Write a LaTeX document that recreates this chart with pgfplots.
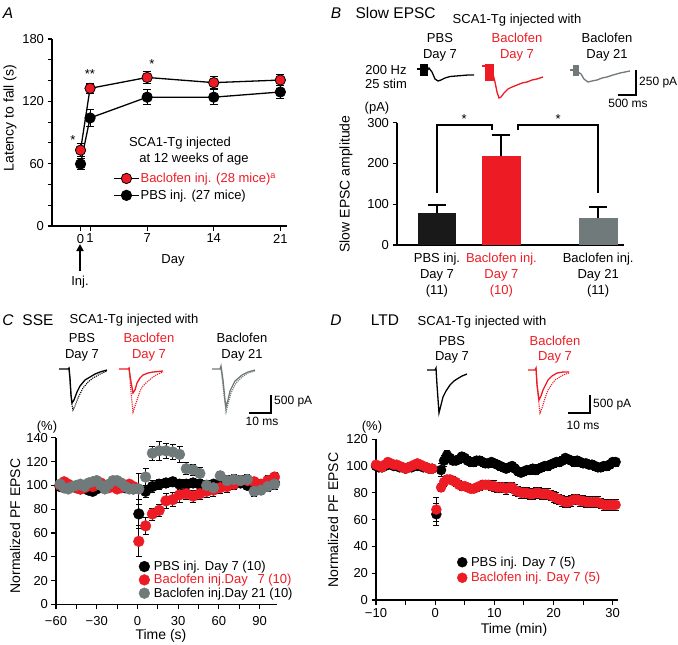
\documentclass[border=0pt]{standalone}
\usepackage{fontspec}
\setmainfont{Liberation Sans}
\usepackage{pgfplots}
\pgfplotsset{compat=1.18}
\usetikzlibrary{arrows.meta}
\definecolor{myred}{RGB}{237,28,36}
\definecolor{mygray}{RGB}{112,122,122}
\newcommand{\tf}{\fontsize{13}{16}\selectfont}
\newcommand{\scf}{\fontsize{12}{14}\selectfont}
\newcommand{\lf}{\fontsize{14}{16}\selectfont}
\newcommand{\hf}{\fontsize{15.5}{18}\selectfont}
\pgfplotsset{
  panel/.style={scale only axis, anchor=south west, axis x line*=bottom, axis y line*=left,
    tick align=outside, major tick length=4.5pt, minor tick length=4.5pt,
    every tick/.style={black, line width=1.1pt}, axis line style={line width=1.2pt},
    ticklabel style={font=\tf}, /pgf/number format/assume math mode=true, clip=false},
  ebar/.style={error bars/.cd, y dir=both, y explicit,
    error bar style={black, line width=0.8pt},
    error mark options={rotate=90, black, mark size=3pt, line width=0.8pt}},
  dots/.style={only marks, mark=*, mark size=5.4pt, mark options={draw=#1, fill=#1}},
}
\begin{document}
\begin{tikzpicture}
\path[use as bounding box] (0pt,0pt) rectangle (678pt,-645pt);

% ---------------- Panel A ----------------
\begin{axis}[panel, at={(52pt,-226pt)}, width=235pt, height=187pt,
  xmin=-3, xmax=21.7, ymin=0, ymax=180,
  xtick={0,1,7,14,21}, ytick={0,60,120,180}, minor ytick={20,40,80,100,140,160},
  reverse legend, legend cell align=left,
  legend style={draw=none, fill=none, at={(0.26,0.29)}, anchor=north west, font=\tf,
    row sep=4pt, inner sep=0pt, nodes={inner sep=1pt}},
  legend image code/.code={\draw[mark repeat=2,mark phase=2,#1] plot coordinates {(0pt,0pt)(12.5pt,0pt)(25pt,0pt)};}]
\addplot[black, line width=1.3pt, mark=*, mark size=5.2pt,
  mark options={solid, fill=black, draw=black, line width=0.8pt},
  error bars/.cd, y dir=both, y explicit, error bar style={black, line width=1pt},
  error mark options={rotate=90, black, mark size=4pt, line width=1pt}]
  table[x=d, y=v, y error=e] {
d v e
0 59.7 5
1 104 8
7 124 7
14 124 7
21 129 6
};
\addlegendentry{PBS inj. (27 mice)}
\addplot[black, line width=1.3pt, mark=*, mark size=5.2pt,
  mark options={solid, fill=myred, draw=black, line width=0.8pt},
  error bars/.cd, y dir=both, y explicit, error bar style={black, line width=1pt},
  error mark options={rotate=90, black, mark size=4pt, line width=1pt}]
  table[x=d, y=v, y error=e] {
d v e
0 73 6
1 132.5 5
7 143 6
14 138 6
21 140.5 5
};
\addlegendentry{\textcolor{myred}{Baclofen inj. (28 mice)\textsuperscript{a}}}
\end{axis}

% ---------------- Panel B ----------------
\begin{axis}[panel, at={(397pt,-245pt)}, width=227pt, height=122.3pt,
  xmin=-0.62, xmax=2.9, ymin=0, ymax=300, ytick={0,100,200,300},
  xtick={0,1,2.5}, x tick style={draw=none},
  xticklabels={{PBS inj.\\Day 7\\(11)},
    {\textcolor{myred}{Baclofen inj.}\\\textcolor{myred}{Day 7}\\\textcolor{myred}{(10)}},
    {Baclofen inj.\\Day 21\\(11)}},
  xticklabel style={align=center, font=\fontsize{13}{16}\selectfont}]
\addplot[ybar, bar width=0.6, bar shift=0pt, fill=black!90, draw=none,
  error bars/.cd, y dir=plus, y explicit, error bar style={black, line width=2pt},
  error mark options={rotate=90, black, mark size=9pt, line width=2pt}]
  coordinates {(0,78) +- (0,20)};
\addplot[ybar, bar width=0.6, bar shift=0pt, fill=myred, draw=none,
  error bars/.cd, y dir=plus, y explicit, error bar style={black, line width=2pt},
  error mark options={rotate=90, black, mark size=9pt, line width=2pt}]
  coordinates {(1,219) +- (0,51)};
\addplot[ybar, bar width=0.6, bar shift=0pt, fill=mygray, draw=none,
  error bars/.cd, y dir=plus, y explicit, error bar style={black, line width=2pt},
  error mark options={rotate=90, black, mark size=9pt, line width=2pt}]
  coordinates {(2.5,67) +- (0,27)};
\draw[line width=1.8pt] (axis cs:0,127) -- (axis cs:0,294) -- (axis cs:0.853,294) -- (axis cs:0.853,282);
\draw[line width=1.8pt] (axis cs:1.256,282) -- (axis cs:1.256,294) -- (axis cs:2.5,294) -- (axis cs:2.5,127);
\node[font=\tf] at (axis cs:0.42,310) {*};
\node[font=\tf] at (axis cs:1.88,310) {*};
\end{axis}

% ---------------- Panel C ----------------
\begin{axis}[panel, at={(56pt,-604.5pt)}, width=220.7pt, height=166.8pt,
  xmin=-60, xmax=102.6, ymin=0, ymax=140,
  xtick={-60,-30,0,30,60,90}, xticklabels={−60,−30,0,30,60,90},
  xticklabel style={yshift=-4pt},
  minor xtick={-45,-15,15,45,75}, ytick={0,20,...,140},
  legend cell align=left,
  legend style={draw=none, fill=none, at={(0.375,0.265)}, anchor=north west, font=\tf,
    row sep=1.2pt, inner sep=0pt, nodes={inner sep=0.6pt},
    /tikz/every odd column/.append style={column sep=3.5pt}}]
\addplot[dots=black, ebar] table[x=t, y=v, y error=e] {
t v e
-57 99 2
-54 98 2
-51 100 2
-48 99 2
-45 98 2
-42 97 2
-39 98 2
-36 96 2
-33 95 2
-30 97 2
-27 99 2
-24 98 2
-21 100 2
-18 99 2
-15 98 2
-12 99 2
-9 98 2
-6 98 2
-3 97 2
1 76 12
6 95 5
11 99 5
16 101 4
21 102 4
26 103 4
31 101 4
36 101 4
41 102 4
46 101 4
51 100 4
56 101 3
61 102 3
66 100 3
71 101 3
76 102 3
81 100 3
86 101 3
91 100 3
96 101 3
101 102 3
};
\addlegendentry{PBS inj. Day 7 (10)}
\addplot[dots=myred, ebar] table[x=t, y=v, y error=e] {
t v e
-57 100 2
-54 103 2
-51 101 2
-48 99 2
-45 98 2
-42 97 2
-39 98 2
-36 100 2
-33 99 2
-30 101 2
-27 102 2
-24 100 2
-21 98 2
-18 99 2
-15 97 2
-12 98 2
-9 100 2
-6 101 2
-3 99 2
1 53 13
6 66 7
11 76 5
16 79 5
21 87 6
26 88 6
31 92 6
36 93 5
41 91 5
46 93 5
51 95 5
56 96 5
61 98 5
66 99 5
71 101 4
76 104 4
81 104 4
86 103 4
91 101 4
96 104 4
101 107 4
};
\addlegendentry{\textcolor{myred}{Baclofen inj.Day\hspace{0.75em}7 (10)}}
\addplot[dots=mygray, ebar] table[x=t, y=v, y error=e] {
t v e
-57 101 2
-54 98 2
-51 97 2
-48 99 2
-45 100 2
-42 101 2
-39 99 2
-36 102 2
-33 103 2
-30 104 2
-27 100 2
-24 97 2
-21 101 2
-18 104 2
-15 104 2
-12 102 2
-9 99 2
-6 97 2
-3 97 2
1 97 13
6 107 7
11 127 6
16 129 8
21 129 6
26 128 6
31 126 7
36 114 5
41 113 5
46 110 5
51 100 4
56 98 4
61 108 4
66 104 4
71 105 4
76 104 4
81 105 4
86 95 4
91 96 4
96 99 4
101 101 4
};
\addlegendentry{Baclofen inj.Day 21 (10)}
\end{axis}

% ---------------- Panel D ----------------
\begin{axis}[panel, at={(376pt,-600pt)}, width=242pt, height=160.8pt,
  xmin=-10, xmax=30.9, ymin=0, ymax=120,
  xtick={-10,0,10,20,30}, xticklabels={−10,0,10,20,30},
  minor xtick={-5,5,15,25}, ytick={0,20,...,120},
  legend cell align=left,
  legend style={draw=none, fill=none, at={(0.335,0.275)}, anchor=north west, font=\tf,
    row sep=3pt, inner sep=0pt, nodes={inner sep=0.8pt},
    /tikz/every odd column/.append style={column sep=3pt}}]
\addplot[only marks, mark=*, mark size=5pt, mark options={draw=black, fill=black}, ebar] table[x=t, y=v, y error=e] {
t v e
-10 100 2
-9.5 99 2
-9 99 2
-8.5 100 2
-8 101 2
-7.5 101 2
-7 100 2
-6.5 100 2
-6 99 2
-5.5 99 2
-5 98 2
-4.5 99 2
-4 99 2
-3.5 100 2
-3 100 2
-2.5 100 2
-2 99 2
-1.5 99 2
-1 98 2
-0.5 98 2
0.2 64 8
1.0 97 5
1.5 104 4
2.0 108 4
2.5 106 3
3.0 104 3
3.5 104 3
4.0 105 3
4.5 107 3
5.0 106 3
5.5 104 3
6.0 103 3
6.5 103 3
7.0 104 3
7.5 104 3
8.0 103 3
8.5 102 3
9.0 102 3
9.5 103 3
10.0 102 3
10.5 101 3
11.0 100 3
11.5 99 3
12.0 98 3
12.5 99 3
13.0 100 3
13.5 98 3
14.0 96 3
14.5 95 3
15.0 96 3
15.5 97 3
16.0 97 3
16.5 98 3
17.0 97 3
17.5 98 3
18.0 99 3
18.5 100 3
19.0 100 3
19.5 101 3
20.0 102 3
20.5 103 3
21.0 103 3
21.5 104 3
22.0 106 3
22.5 105 3
23.0 104 3
23.5 103 3
24.0 104 3
24.5 103 3
25.0 102 3
25.5 102 3
26.0 101 3
26.5 101 3
27.0 100 3
27.5 99 3
28.0 99 3
28.5 100 3
29.0 100 3
29.5 101 3
30.0 103 3
30.5 103 3
};
\addlegendentry{PBS inj. Day 7 (5)}
\addplot[only marks, mark=*, mark size=5pt, mark options={draw=myred, fill=myred}, ebar] table[x=t, y=v, y error=e] {
t v e
-10 101 2
-9.5 100 2
-9 99 2
-8.5 101 2
-8 103 2
-7.5 102 2
-7 101 2
-6.5 101 2
-6 100 2
-5.5 99 2
-5 98 2
-4.5 99 2
-4 100 2
-3.5 101 2
-3 102 2
-2.5 101 2
-2 100 2
-1.5 99 2
-1 98 2
-0.5 98 2
0.2 67.5 9
1.0 84 3
1.5 88 3
2.0 90 3
2.5 90 3
3.0 89 3
3.5 88 3
4.0 86 3
4.5 85 3
5.0 85 3
5.5 84 3
6.0 83 3
6.5 83 3
7.0 84 3
7.5 85 3
8.0 86 3
8.5 86 3
9.0 86 3
9.5 85 3
10.0 85 4
10.5 84 4
11.0 84 4
11.5 84 4
12.0 83 4
12.5 84 4
13.0 84 4
13.5 82 4
14.0 81 4
14.5 80 4
15.0 80 4
15.5 80 4
16.0 79 4
16.5 79 4
17.0 80 4
17.5 80 4
18.0 79 4
18.5 79 4
19.0 79 4
19.5 78 4
20.0 77 4
20.5 76 4
21.0 75 4
21.5 74 4
22.0 73 4
22.5 73 4
23.0 74 4
23.5 75 4
24.0 75 4
24.5 74 4
25.0 74 4
25.5 73 4
26.0 73 4
26.5 73 4
27.0 73 4
27.5 73 4
28.0 72 4
28.5 71 4
29.0 71 4
29.5 71 4
30.0 71 4
30.5 71 4
};
\addlegendentry{\textcolor{myred}{Baclofen inj. Day 7 (5)}}
\end{axis}

% ---------------- Overlay (pixel coordinates) ----------------
\begin{axis}[at={(0pt,0pt)}, anchor=north west, scale only axis, width=678pt, height=645pt,
  xmin=0, xmax=678, ymin=0, ymax=645, y dir=reverse, hide axis, clip=false]
% Panel letters & headers
\node[font=\hf\itshape] at (axis cs:8,13) {A};
\node[font=\hf\itshape] at (axis cs:336,13) {B};
\node[font=\hf\itshape] at (axis cs:8,320) {C};
\node[font=\hf\itshape] at (axis cs:336,320) {D};
\node[font=\hf, anchor=west] at (axis cs:352,13) {Slow EPSC};
\node[font=\hf] at (axis cs:38,320) {SSE};
\node[font=\hf] at (axis cs:385,320) {LTD};
\node[font=\tf] at (axis cs:517,20) {SCA1-Tg injected with};
\node[font=\tf] at (axis cs:134,320) {SCA1-Tg injected with};
\node[font=\tf] at (axis cs:482,322) {SCA1-Tg injected with};
% Panel A labels
\node[font=\lf, rotate=90] at (axis cs:10,118) {Latency to fall (s)};
\node[font=\tf] at (axis cs:173,260) {Day};
\node[font=\tf] at (axis cs:80,282) {Inj.};
\draw[-{Triangle[length=7pt,width=7pt]}, line width=2pt] (axis cs:80,271) -- (axis cs:80,244);
\node[font=\tf] at (axis cs:180,143) {SCA1-Tg injected};
\node[font=\tf] at (axis cs:194,159) {at 12 weeks of age};
\node[font=\tf] at (axis cs:73,140) {*};
\node[font=\tf] at (axis cs:90,74) {**};
\node[font=\tf] at (axis cs:152,64) {*};
% Panel B labels
\node[font=\lf, rotate=90] at (axis cs:346,184) {Slow EPSC amplitude};
\node[font=\tf] at (axis cs:377,108) {(pA)};
\node[font=\tf] at (axis cs:440,38) {PBS};
\node[font=\tf] at (axis cs:440,55) {Day 7};
\node[font=\tf, text=myred] at (axis cs:517,38) {Baclofen};
\node[font=\tf, text=myred] at (axis cs:517,55) {Day 7};
\node[font=\tf] at (axis cs:607,38) {Baclofen};
\node[font=\tf] at (axis cs:607,55) {Day 21};
\node[font=\tf] at (axis cs:386,70) {200 Hz};
\node[font=\tf] at (axis cs:386,84) {25 stim};
\node[font=\scf, anchor=west, inner sep=0pt] at (axis cs:639,83) {250 pA};
\node[font=\scf] at (axis cs:628,103) {500 ms};
% B traces
\addplot[black, line width=1.3pt] coordinates {(417,69)(420,69)};
\addplot[fill=black, draw=black] coordinates {(420,64)(427,64)(427,75)(420,75)(420,64)};
\addplot[black, line width=1.3pt] coordinates {(427,71)(429,68)(432,72)(435,79)(438,81)(441,80)(445,78)(450,76.5)(456,76)(462,75.5)(468,75)(474,75)};
\addplot[myred, line width=1.3pt] coordinates {(482,66)(485,66)};
\addplot[fill=myred, draw=myred] coordinates {(485,64)(493,64)(493,80)(485,80)(485,64)};
\addplot[myred, line width=1.3pt] coordinates {(493,74)(495,82)(497,92)(499,98)(501,97)(504,93)(508,89)(512,87)(517,85)(522,83)(527,82)(532,80)(537,79)(543,77)};
\addplot[mygray, line width=1.3pt] coordinates {(570,70)(573,70)};
\addplot[fill=mygray, draw=mygray] coordinates {(573,65)(578,65)(578,75)(573,75)(573,65)};
\addplot[mygray, line width=1.3pt] coordinates {(578,72)(581,74)(584,79)(588,82)(592,81)(597,80)(602,78)(607,77)(613,75)(620,73)(630,71)};
\addplot[black, line width=1.2pt] coordinates {(618,95)(636,95)(636,70)};
% Panel C labels
\node[font=\lf, rotate=90] at (axis cs:15,526) {Normalized PF EPSC};
\node[font=\tf] at (axis cs:47,427) {(\%)};
\node[font=\lf] at (axis cs:161,636) {Time (s)};
\node[font=\tf] at (axis cs:82,338) {PBS};
\node[font=\tf] at (axis cs:82,355) {Day 7};
\node[font=\tf, text=myred] at (axis cs:149,338) {Baclofen};
\node[font=\tf, text=myred] at (axis cs:149,355) {Day 7};
\node[font=\tf] at (axis cs:242,338) {Baclofen};
\node[font=\tf] at (axis cs:242,355) {Day 21};
\node[font=\scf, anchor=west, inner sep=0pt] at (axis cs:274,402) {500 pA};
\node[font=\scf] at (axis cs:262,421) {10 ms};
% C traces
\addplot[black, line width=1.3pt] coordinates {(59,369)(68,369)(69,368)(70,378)(71,395)(72,403)(74,400)(77,392)(80,386)(85,380)(90,377)(95,374)(100,372)(107,370)};
\addplot[black, line width=1.1pt, densely dotted] coordinates {(69,368)(71,395)(72,405)(73,410)(75,406)(78,398)(83,388)(88,382)(93,378)(100,374)(107,371)};
\addplot[myred, line width=1.3pt] coordinates {(119,369)(128,369)(129,368)(131,382)(133,393)(135,390)(137,383)(140,378)(143,375)(148,373)(153,372)(163,371)};
\addplot[myred, line width=1.1pt, densely dotted] coordinates {(129,368)(131,392)(133,412)(135,406)(137,400)(140,391)(143,386)(147,382)(153,377)(158,374)(163,372)};
\addplot[mygray, line width=1.3pt] coordinates {(212,369)(220,369)(221,366)(223,380)(225,400)(226,407)(228,400)(230,391)(235,381)(242,375)(248,372)(255,370)};
\addplot[mygray, line width=1.1pt, densely dotted] coordinates {(221,368)(224,395)(226,412)(228,404)(231,393)(236,383)(242,377)(248,373)(255,371)};
\addplot[black, line width=1.2pt] coordinates {(249,413)(271,413)(271,395)};
% Panel D labels
\node[font=\lf, rotate=90] at (axis cs:333,520) {Normalized PF EPSC};
\node[font=\tf] at (axis cs:372,427) {(\%)};
\node[font=\lf] at (axis cs:514,630) {Time (min)};
\node[font=\tf] at (axis cs:452,341) {PBS};
\node[font=\tf] at (axis cs:452,357) {Day 7};
\node[font=\tf, text=myred] at (axis cs:555,341) {Baclofen};
\node[font=\tf, text=myred] at (axis cs:555,357) {Day 7};
\node[font=\scf, anchor=west, inner sep=0pt] at (axis cs:593,405) {500 pA};
\node[font=\scf] at (axis cs:583,425) {10 ms};
% D traces
\addplot[black, line width=1.3pt] coordinates {(427,370)(435,370)(436,368)(437,385)(439,413)(441,405)(443,397)(446,391)(450,385)(454,381)(457,379)(462,376)(467,374)};
\addplot[myred, line width=1.3pt] coordinates {(528,370)(535,370)(536,368)(537,385)(539,400)(541,396)(543,390)(548,380)(552,376)(557,373)(563,372)(569,372)};
\addplot[myred, line width=1.1pt, densely dotted] coordinates {(536,368)(538,395)(540,413)(542,408)(545,398)(548,390)(552,384)(555,380)(563,375)(569,373)};
\addplot[black, line width=1.2pt] coordinates {(568,413)(590,413)(590,395)};
\end{axis}
\end{tikzpicture}
\end{document}
